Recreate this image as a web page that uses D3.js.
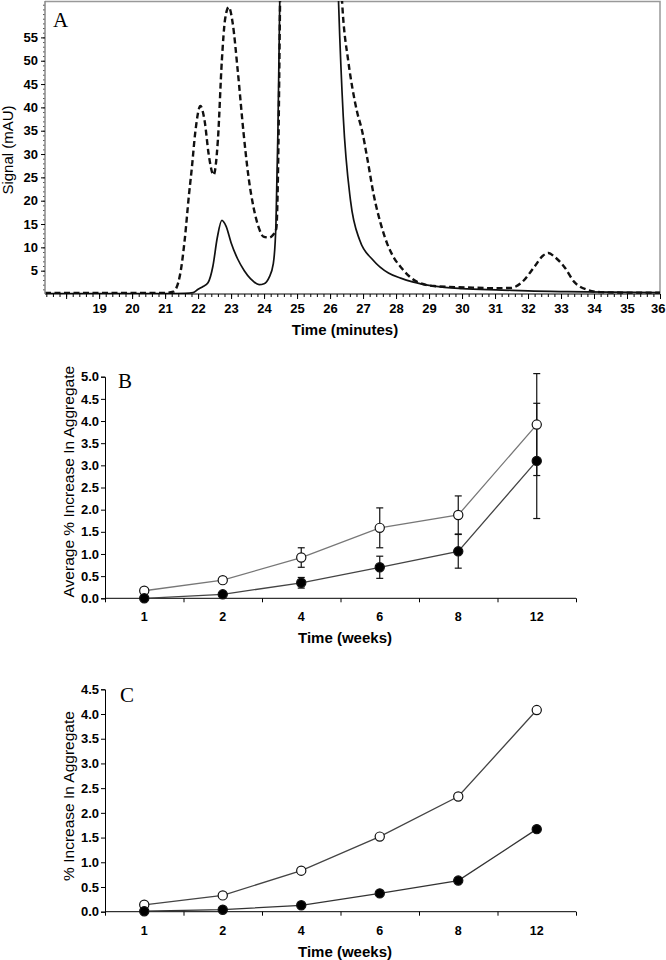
<!DOCTYPE html>
<html>
<head>
<meta charset="utf-8">
<script src="https://cdn.jsdelivr.net/npm/d3@7"></script>
<style>
  body { margin: 0; background: #fff; }
  svg { display: block; }
  text { font-family: "Liberation Sans", Arial, sans-serif; }
</style>
</head>
<body>
<svg id="fig" width="666" height="960"></svg>
<script>
// --- Panel A: chromatogram traces, [time (min), signal (mAU)] ---
const solidTrace = [
  [17.36, 0.1], [19, 0.1], [20, 0.1], [21, 0.1], [21.6, 0.15], [21.85, 0.3], [22.0, 1.0],
  [22.15, 1.6], [22.3, 2.4], [22.45, 6], [22.58, 12], [22.72, 15.8], [22.85, 14.5],
  [23.0, 11], [23.2, 7.5], [23.4, 5], [23.6, 3.2], [23.85, 2.0], [24.0, 2.2], [24.15, 3.5],
  [24.28, 6.5], [24.36, 15], [24.42, 35], [24.48, 65], [24.56, 120], [25.3, 300],
  [26.0, 150], [26.15, 90], [26.26, 62], [26.4, 38], [26.62, 20], [26.9, 11.5], [27.3, 7.3],
  [27.77, 4.5], [28.14, 3.4], [28.5, 2.6], [29.15, 1.7], [30, 1.15], [31.2, 0.85],
  [32, 0.65], [33.2, 0.5], [34.5, 0.4], [36, 0.3]
];
const dashedTrace = [
  [17.36, 0.2], [19, 0.2], [20, 0.2], [21, 0.25], [21.25, 0.5], [21.45, 4], [21.6, 12],
  [21.72, 21], [21.81, 27], [21.92, 35], [22.07, 40.3], [22.2, 37], [22.32, 30], [22.47, 25.5],
  [22.6, 33], [22.72, 50], [22.82, 59], [22.93, 61.5], [23.05, 58], [23.2, 48], [23.38, 34.4],
  [23.53, 25], [23.68, 18.6], [23.85, 14], [23.98, 12.3], [24.15, 12.1], [24.25, 12.5],
  [24.37, 14], [24.42, 25], [24.48, 60], [24.56, 120], [25.3, 300], [26.1, 150], [26.28, 75],
  [26.37, 62], [26.55, 50], [26.68, 44], [26.82, 39], [26.97, 35], [27.13, 29],
  [27.33, 21], [27.53, 15.2], [27.73, 10.8], [27.95, 7.6], [28.14, 5.8], [28.4, 3.8],
  [28.64, 2.6], [29.15, 1.7], [30.16, 1.4], [31, 1.25], [31.48, 1.3], [31.78, 2.3],
  [32.19, 5.8], [32.45, 8.2], [32.62, 8.8], [32.8, 8], [33.1, 5.8], [33.4, 2.6],
  [33.8, 0.9], [34.2, 0.4], [35, 0.3], [36, 0.3]
];
const aTimeTicks = d3.range(18, 37);
const aSignalTicks = d3.range(5, 60, 5);

// --- Panels B and C: weeks ---
const weeks = ["1", "2", "4", "6", "8", "12"];
const bOpen = [0.17, 0.41, 0.92, 1.59, 1.88, 3.92];
const bOpenErr = [0.03, 0.06, 0.22, 0.45, 0.43, 1.15];
const bFilled = [0.0, 0.09, 0.35, 0.70, 1.06, 3.10];
const bFilledErr = [0.0, 0.03, 0.12, 0.25, 0.38, 1.30];
const cOpen = [0.14, 0.33, 0.83, 1.52, 2.33, 4.08];
const cFilled = [0.01, 0.04, 0.13, 0.37, 0.63, 1.67];

const svg = d3.select("#fig");
const tickFont = { size: "13px", weight: "bold" };

// ================= Panel A =================
const xA = d3.scaleLinear().domain([17.36, 36]).range([45, 660]);
const yA = d3.scaleLinear().domain([0, 62.8]).range([294, 1]);

svg.append("defs").append("clipPath").attr("id", "clipA")
  .append("rect").attr("x", 45).attr("y", 1).attr("width", 615).attr("height", 293);

// gray frame top/right
svg.append("path")
  .attr("d", `M45,1.5H660V294`)
  .attr("fill", "none").attr("stroke", "#999").attr("stroke-width", 1.5);

const lineA = d3.line().x(d => xA(d[0])).y(d => yA(d[1])).curve(d3.curveMonotoneX);
const traces = svg.append("g").attr("clip-path", "url(#clipA)");
traces.append("path").datum(solidTrace).attr("d", lineA)
  .attr("fill", "none").attr("stroke", "#111").attr("stroke-width", 1.7);
traces.append("path").datum(dashedTrace).attr("d", lineA)
  .attr("fill", "none").attr("stroke", "#111").attr("stroke-width", 2.4)
  .attr("stroke-dasharray", "6,3.5");

// x axis A
svg.append("g").attr("transform", "translate(0,294)")
  .call(d3.axisBottom(xA).tickValues(d3.range(17.4, 36.01, 0.2)).tickSize(3).tickFormat(""))
  .call(g => g.select(".domain").remove());
svg.append("g").attr("transform", "translate(0,294)")
  .call(d3.axisBottom(xA).tickValues(aTimeTicks).tickSize(5).tickPadding(5)
    .tickFormat(d => d >= 19 ? d : ""))
  .call(g => g.select(".domain").attr("d", "M45,0H660"))
  .call(g => g.selectAll("text").style("font-size", tickFont.size).style("font-weight", tickFont.weight))
  // last label sits at the right edge: pull it inside
  .call(g => g.selectAll("text").filter(d => d === 36).attr("text-anchor", "end").attr("dx", 5));

// y axis A
svg.append("g").attr("transform", "translate(45,0)")
  .call(d3.axisLeft(yA).tickValues(d3.range(1, 63, 1)).tickSize(2).tickFormat(""))
  .call(g => g.select(".domain").remove())
  .call(g => g.selectAll("line").attr("stroke", "#555"));
svg.append("g").attr("transform", "translate(45,0)")
  .call(d3.axisLeft(yA).tickValues(aSignalTicks).tickSize(4).tickPadding(3))
  .call(g => g.select(".domain").attr("d", "M0,294V1").attr("stroke", "#888").attr("stroke-width", 1.5))
  .call(g => g.selectAll("text").style("font-size", tickFont.size).style("font-weight", tickFont.weight));

svg.append("text").attr("x", 53).attr("y", 27).text("A")
  .style("font-family", "'Liberation Serif', 'Times New Roman', serif").style("font-size", "21px");
svg.append("text").attr("transform", "translate(12.5,150) rotate(-90)")
  .attr("text-anchor", "middle").style("font-size", "15px").text("Signal (mAU)");
svg.append("text").attr("x", 345).attr("y", 335).attr("text-anchor", "middle")
  .style("font-size", "15px").style("font-weight", "bold").text("Time (minutes)");

// ================= Panels B and C =================
function drawWeeksPanel(opt) {
  const x = d3.scaleBand().domain(weeks).range([105, 576]);
  const xEdge = d3.scaleLinear().domain([0, weeks.length]).range([105, 576]);
  const y = d3.scaleLinear().domain([0, opt.yMax]).range([opt.y0, opt.yTop]);
  const g = svg.append("g");
  const cx = w => x(w) + x.bandwidth() / 2;

  // axes
  g.append("g").attr("transform", `translate(0,${opt.y0})`)
    .call(d3.axisBottom(xEdge).tickValues(d3.range(0, weeks.length + 1)).tickSize(4).tickFormat(""))
    .call(a => a.select(".domain").attr("d", "M105,0H576"));
  g.append("g").attr("transform", `translate(0,${opt.y0})`)
    .call(d3.axisBottom(x).tickSize(0).tickPadding(14))
    .call(a => a.select(".domain").remove())
    .call(a => a.selectAll("text").style("font-size", "12.5px").style("font-weight", "bold"));
  g.append("g").attr("transform", "translate(105,0)")
    .call(d3.axisLeft(y).tickValues(d3.range(0, opt.yMax + 0.01, 0.5)).tickSize(4).tickPadding(2)
      .tickFormat(d3.format(".1f")))
    .call(a => a.selectAll("text").style("font-size", "13px").style("font-weight", "bold"));

  const line = d3.line().x((d, i) => cx(weeks[i])).y(d => y(d));
  opt.series.forEach(s => {
    g.append("path").datum(s.values).attr("d", line)
      .attr("fill", "none").attr("stroke", s.lineColor).attr("stroke-width", 1.3);
  });
  opt.series.forEach(s => {
    if (!s.err) return;
    const eb = g.append("g").attr("stroke", "#111").attr("stroke-width", 1.2);
    s.values.forEach((v, i) => {
      const e = s.err[i];
      if (!e) return;
      const px = cx(weeks[i]);
      eb.append("line").attr("x1", px).attr("x2", px).attr("y1", y(v - e)).attr("y2", y(v + e));
      [v - e, v + e].forEach(c => eb.append("line")
        .attr("x1", px - 3.5).attr("x2", px + 3.5).attr("y1", y(c)).attr("y2", y(c)));
    });
  });
  opt.series.forEach(s => {
    g.append("g").selectAll("circle").data(s.values).join("circle")
      .attr("cx", (d, i) => cx(weeks[i])).attr("cy", d => y(d)).attr("r", 4.6)
      .attr("fill", s.fill).attr("stroke", "#111").attr("stroke-width", 1.2);
  });

  svg.append("text").attr("x", opt.letterX).attr("y", opt.letterY).text(opt.letter)
    .style("font-family", "'Liberation Serif', 'Times New Roman', serif").style("font-size", "21px");
  svg.append("text").attr("transform", `translate(73.5,${opt.labelY}) rotate(-90)`)
    .attr("text-anchor", "middle").style("font-size", "15.5px").text(opt.yLabel);
  svg.append("text").attr("x", 345).attr("y", opt.y0 + 45).attr("text-anchor", "middle")
    .style("font-size", "15px").style("font-weight", "bold").text("Time (weeks)");
}

drawWeeksPanel({
  y0: 598.3, yTop: 376.7, yMax: 5.0, letter: "B", letterX: 118, letterY: 388,
  labelY: 481.7, yLabel: "Average % Increase In Aggregate",
  series: [
    { values: bOpen, err: bOpenErr, fill: "#fff", lineColor: "#777" },
    { values: bFilled, err: bFilledErr, fill: "#000", lineColor: "#444" }
  ]
});

drawWeeksPanel({
  y0: 911.7, yTop: 689.3, yMax: 4.5, letter: "C", letterX: 120, letterY: 702,
  labelY: 796, yLabel: "% Increase In Aggregate",
  series: [
    { values: cOpen, fill: "#fff", lineColor: "#444" },
    { values: cFilled, fill: "#000", lineColor: "#333" }
  ]
});
</script>
</body>
</html>
